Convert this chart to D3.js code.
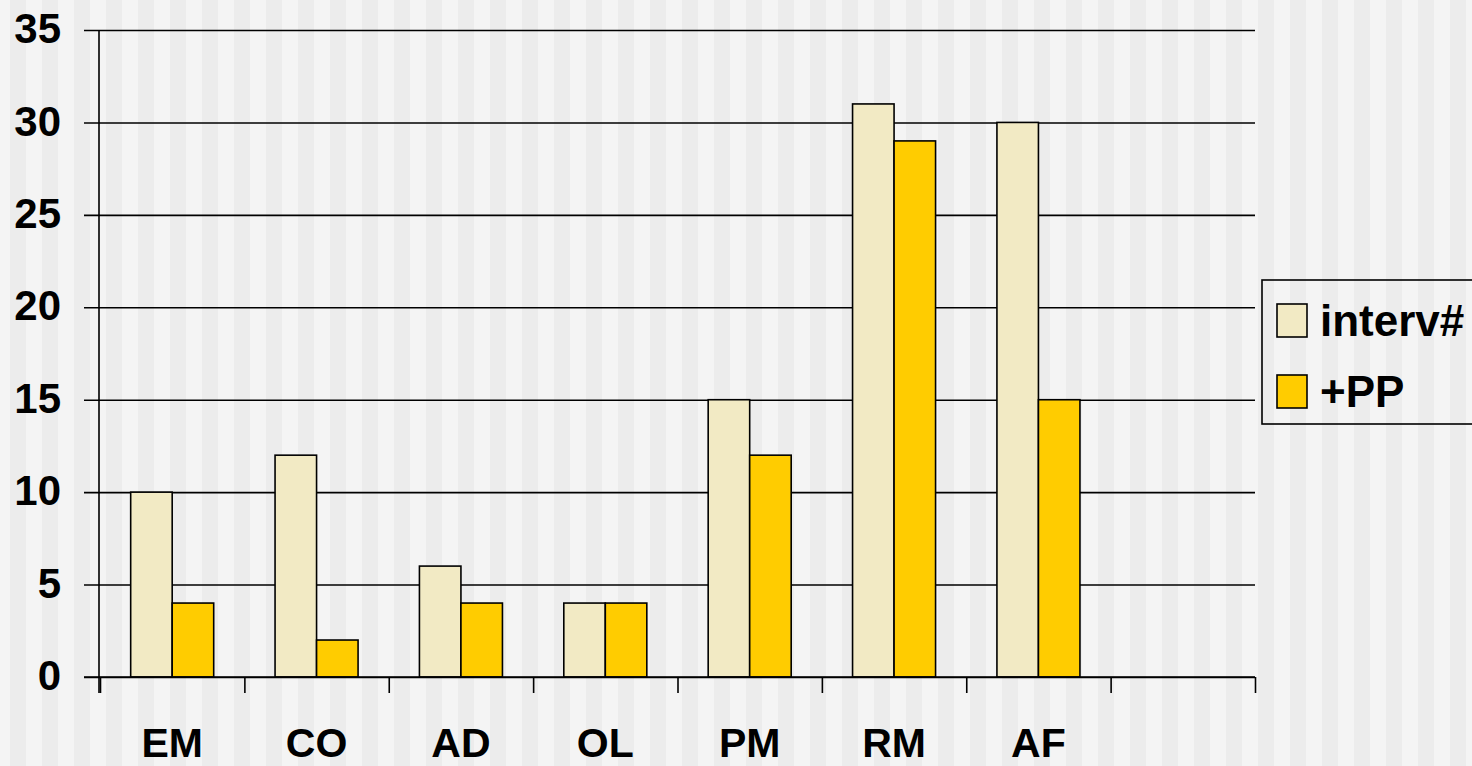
<!DOCTYPE html>
<html>
<head>
<meta charset="utf-8">
<script src="https://cdn.jsdelivr.net/npm/d3@7"></script>
<style>
  html, body { margin: 0; padding: 0; background: #f4f4f4; }
  svg { display: block; }
  text { font-family: "Liberation Sans", Arial, sans-serif; font-weight: bold; fill: #000; }
</style>
</head>
<body>
<svg id="chart" width="1472" height="766"></svg>
<script>
// Categories along the x axis (the last slot is left empty)
const categories = ["EM", "CO", "AD", "OL", "PM", "RM", "AF", ""];
const seriesNames = ["interv#", "+PP"];
const intervValues = [10, 12, 6, 4, 15, 31, 30, null];
const ppValues = [4, 2, 4, 4, 12, 29, 15, null];
const yTicks = [0, 5, 10, 15, 20, 25, 30, 35];
const seriesColors = ["#f2eac4", "#ffcc00"];

const W = 1472, H = 766;
const svg = d3.select("#chart");

// Striped backdrop
const stripes = svg.append("g");
d3.range(-22, W, 32).forEach(x0 => {
  stripes.append("rect").attr("x", x0).attr("y", 0).attr("width", 16).attr("height", H).attr("fill", "#ececec");
});

const plot = { left: 100, right: 1255, top: 30, bottom: 677 };

const x = d3.scaleBand().domain(d3.range(categories.length)).range([plot.left, plot.right]).padding(0);
const x1 = d3.scaleBand().domain(seriesNames).range([x.bandwidth() * 0.2125, x.bandwidth() * 0.7875]).padding(0);
const y = d3.scaleLinear().domain([0, 35]).range([plot.bottom, plot.top]);
const xEdge = d3.scaleLinear().domain([0, categories.length]).range([plot.left, plot.right]);

// Horizontal gridlines with value labels
const yAxis = svg.append("g")
  .attr("transform", `translate(${plot.right},0)`)
  .call(d3.axisLeft(y).tickValues(yTicks).tickSize(plot.right - 84).tickPadding(23).tickFormat(d3.format("d")));
yAxis.select(".domain").remove();
yAxis.selectAll(".tick line").attr("stroke", "#000").attr("stroke-width", 1.6);
yAxis.selectAll(".tick text").attr("font-size", 42).attr("dy", "0.3em");

// Bars
const rows = categories.map((c, i) => ({ i, vals: [intervValues[i], ppValues[i]] }));
const groups = svg.append("g").selectAll("g").data(rows).join("g")
  .attr("transform", d => `translate(${x(d.i)},0)`);
groups.selectAll("rect")
  .data(d => d.vals.map((v, k) => ({ v, k })).filter(e => e.v != null))
  .join("rect")
  .attr("x", e => x1(seriesNames[e.k]))
  .attr("width", x1.bandwidth())
  .attr("y", e => y(e.v))
  .attr("height", e => y(0) - y(e.v))
  .attr("fill", e => seriesColors[e.k])
  .attr("stroke", "#000")
  .attr("stroke-width", 1.6);

// Category boundary ticks and baseline
const xTickAxis = svg.append("g")
  .attr("transform", `translate(0,${plot.bottom})`)
  .call(d3.axisBottom(xEdge).tickValues(d3.range(categories.length + 1)).tickSize(16).tickFormat(""));
xTickAxis.select(".domain").remove();
xTickAxis.selectAll(".tick line").attr("stroke", "#000").attr("stroke-width", 1.6);
svg.append("line")
  .attr("x1", 84).attr("x2", plot.right)
  .attr("y1", y(0)).attr("y2", y(0))
  .attr("stroke", "#000").attr("stroke-width", 1.6);

// Category labels
const xLabelAxis = svg.append("g")
  .attr("transform", `translate(0,${plot.bottom})`)
  .call(d3.axisBottom(x).tickSize(0).tickPadding(51).tickFormat(i => categories[i]));
xLabelAxis.select(".domain").remove();
xLabelAxis.selectAll(".tick text").attr("font-size", 41);

// Vertical axis line
svg.append("line")
  .attr("x1", plot.left - 1).attr("x2", plot.left - 1)
  .attr("y1", y(35)).attr("y2", y(0) + 16)
  .attr("stroke", "#000").attr("stroke-width", 1.6);

// Legend
const legend = svg.append("g");
legend.append("rect")
  .attr("x", 1262).attr("y", 280).attr("width", 260).attr("height", 144)
  .attr("fill", "none").attr("stroke", "#000").attr("stroke-width", 1.6);
seriesNames.forEach((name, k) => {
  const ly = 304 + k * 71;
  legend.append("rect")
    .attr("x", 1277).attr("y", ly).attr("width", 30).attr("height", 33)
    .attr("fill", seriesColors[k]).attr("stroke", "#000").attr("stroke-width", 1.6);
  legend.append("text")
    .attr("x", 1320).attr("y", ly + 32)
    .attr("font-size", 44)
    .text(name);
});
</script>
</body>
</html>
